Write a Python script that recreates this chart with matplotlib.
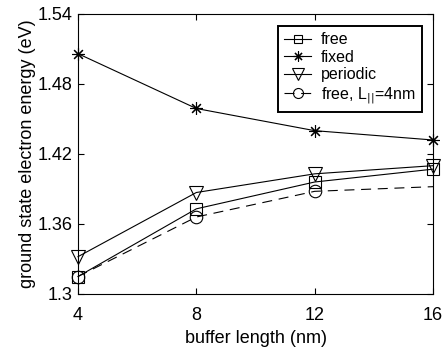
import matplotlib
matplotlib.use("Agg")
import matplotlib.pyplot as plt

plt.rcParams['font.family'] = ['Liberation Sans', 'DejaVu Sans']

buffer_nm = [4, 8, 12, 16]
free = [1.315, 1.373, 1.396, 1.407]
fixed = [1.506, 1.459, 1.440, 1.432]
periodic = [1.332, 1.387, 1.403, 1.410]
free_l4 = [1.315, 1.366, 1.388, 1.392]

fig = plt.figure(figsize=(4.44, 3.49), dpi=100)
ax = fig.add_axes([78 / 444, 55 / 349, 355 / 444, 280 / 349])

lw = 0.8
common = dict(color='k', lw=lw, mfc='none', mew=0.8, clip_on=False, zorder=3)
ax.plot(buffer_nm, free, marker='s', ms=8, label='free', **common)
ax.plot(buffer_nm, fixed, marker=(8, 2, 0), ms=9, label='fixed', **common)
ax.plot(buffer_nm, periodic, marker='v', ms=10, label='periodic', **common)
ax.plot(buffer_nm, free_l4, ls=(0, (9, 6)), marker='o', ms=9, markevery=[0, 1, 2],
        label='free, L$_{||}$=4nm', **common)

ax.set_xlim(4, 16)
ax.set_ylim(1.3, 1.54)
ax.set_xticks(buffer_nm)
ax.set_yticks([1.3, 1.36, 1.42, 1.48, 1.54])
ax.set_yticklabels(['1.3', '1.36', '1.42', '1.48', '1.54'])
ax.tick_params(direction='in', top=True, right=True, labelsize=13, length=4, width=0.8)
ax.tick_params(axis='x', pad=9)
ax.tick_params(axis='y', pad=4)
for s in ax.spines.values():
    s.set_linewidth(0.8)

ax.set_xlabel('buffer length (nm)', fontsize=13, labelpad=5)
ax.set_ylabel('ground state electron energy (eV)', fontsize=13, labelpad=1)

leg = ax.legend(loc='upper right', bbox_to_anchor=(0.969, 0.957), borderaxespad=0, fontsize=11.5,
                frameon=True, fancybox=False, edgecolor='k', framealpha=1, handlelength=1.7,
                handletextpad=0.6, labelspacing=0.15, borderpad=0.4, markerscale=0.8)
leg.get_frame().set_linewidth(1.4)

fig.savefig('out.png', dpi=100)
